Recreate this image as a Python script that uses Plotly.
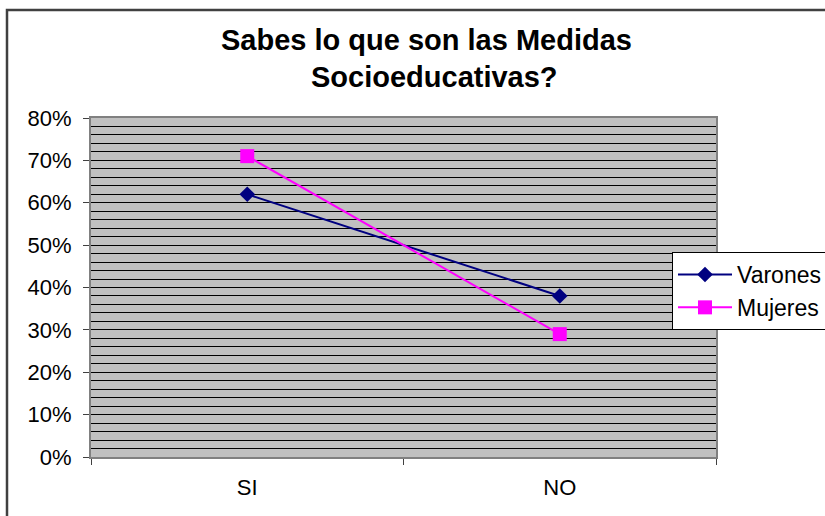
import plotly.graph_objects as go

categories = ["SI", "NO"]
varones = [0.62, 0.38]
mujeres = [0.71, 0.29]
title_lines = ["Sabes lo que son las Medidas", "Socioeducativas?"]

FONT = "Arial, Liberation Sans, sans-serif"

fig = go.Figure()
fig.add_trace(go.Scatter(x=categories, y=varones, name="Varones", mode="lines+markers",
                         line=dict(color="#000080", width=2),
                         marker=dict(symbol="diamond", size=12, color="#000080")))
fig.add_trace(go.Scatter(x=categories, y=mujeres, name="Mujeres", mode="lines+markers",
                         line=dict(color="#FF00FF", width=2),
                         marker=dict(symbol="square", size=14, color="#FF00FF")))

L, R, T, B = 91, 716, 118, 457
W, H = 825, 516

def px(xp):
    return (xp - L) / (R - L)

def py(yp):
    return (B - yp) / (B - T)

title_pos = [(426.5, 22), (434.5, 59)]
annotations = [dict(text="<b>" + t + "</b>", xref="paper", yref="paper",
                    x=px(cx), y=py(cy), xanchor="center", yanchor="top",
                    showarrow=False, font=dict(family=FONT, size=29, color="black"))
               for t, (cx, cy) in zip(title_lines, title_pos)]

fig.update_layout(
    width=W, height=H,
    margin=dict(l=L, r=W - R, t=T, b=H - B, pad=0, autoexpand=False),
    paper_bgcolor="white",
    plot_bgcolor="#C0C0C0",
    font=dict(family=FONT, size=22, color="black"),
    showlegend=True,
    legend=dict(x=px(672), y=py(252), xanchor="left", yanchor="top",
                bgcolor="white", bordercolor="black", borderwidth=1,
                font=dict(family=FONT, size=23, color="black"),
                tracegroupgap=0, itemwidth=54),
    annotations=annotations,
    shapes=[dict(type="rect", xref="paper", yref="paper",
                 x0=px(7), x1=px(835), y0=py(530), y1=py(10),
                 line=dict(color="#404040", width=2.5), layer="below")],
)

fig.update_xaxes(type="category", range=[-0.5, 1.5], tickson="boundaries",
                 ticks="outside", ticklen=6, tickcolor="#404040", tickwidth=1,
                 showgrid=False, showline=True, linecolor="#808080", linewidth=2,
                 mirror=True, ticklabelstandoff=10, zeroline=False, automargin=False)
fig.update_yaxes(range=[0, 0.8], dtick=0.1, tickformat=".0%",
                 ticks="outside", ticklen=6, tickcolor="#404040", tickwidth=1,
                 showgrid=True, gridcolor="black", gridwidth=1,
                 minor=dict(dtick=0.02, showgrid=True, gridcolor="black", gridwidth=1),
                 showline=True, linecolor="#808080", linewidth=2, mirror=True,
                 ticklabelstandoff=7, zeroline=False, automargin=False)

fig.write_html("out.html", config={"displayModeBar": False},
               post_script="document.body.style.margin='0';document.body.style.overflow='hidden';")
